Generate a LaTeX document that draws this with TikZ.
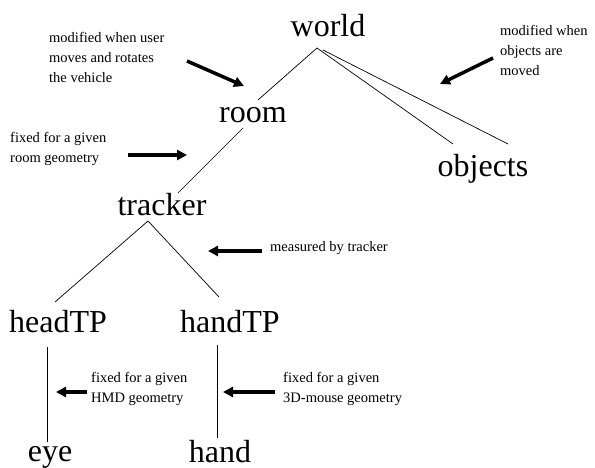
\documentclass[tikz,border=0pt]{standalone}
\usepackage{fontspec}
\setmainfont{Liberation Serif}
\usetikzlibrary{arrows.meta,calc}
\begin{document}
\begin{tikzpicture}[x=1pt,y=-1pt,
  big/.style={font=\fontsize{32}{32}\selectfont, inner sep=0pt, anchor=base},
  note/.style={font=\fontsize{14.5}{20}\selectfont, inner sep=0pt, anchor=north west, align=left},
  link/.style={line width=0.7pt},
  fat/.style={line width=3.5pt, -{Triangle[length=10pt,width=10pt]}}]
\useasboundingbox[fill=white] (0,0) rectangle (595,468);
% main nodes
\node[big] (world) at (328,37) {world};
\node[big] (room) at (253,123) {room};
\node[big] (objects) at (483,177) {objects};
\node[big] (tracker) at (162,215) {tracker};
\node[big] (headTP) at (58,332) {headTP};
\node[big] (handTP) at (230,332) {handTP};
\node[big] (eye) at (50,461) {eye};
\node[big] (hand) at (220,462) {hand};
% connectors
\draw[link] ($(world.base)+(-11,11)$) -- ($(room.base)+(5,-23)$);
\draw[link] ($(world.base)+(-11,11)$) -- ($(objects.base)+(-30,-33)$);
\draw[link] ($(world.base)+(-5,13)$) -- ($(objects.base)+(25,-33)$);
\draw[link] ($(room.base)+(-10,5)$) -- ($(tracker.base)+(16,-22)$);
\draw[link] ($(tracker.base)+(-14,6)$) -- ($(headTP.base)+(-3,-30)$);
\draw[link] ($(tracker.base)+(-14,6)$) -- ($(handTP.base)+(-11,-35)$);
\draw[link] ($(headTP.base)+(-11,15)$) -- ($(eye.base)+(-3,-19)$);
\draw[link] ($(handTP.base)+(-13,13)$) -- ($(hand.base)+(-3,-24)$);
% annotations
\node[note] (n1) at (49,32) {modified when user\\moves and rotates\\the vehicle};
\node[note] (n2) at (10,132) {fixed for a given\\room geometry};
\node[note] (n3) at (500,25) {modified when\\objects are\\moved};
\node[note] (n4) at (270,241) {measured by tracker};
\node[note] (n5) at (91,372) {fixed for a given\\HMD geometry};
\node[note] (n6) at (283,372) {fixed for a given\\3D-mouse geometry};
% arrows (tail and tip)
\coordinate (s1) at (187,61);  \coordinate (t1) at (244,86);
\coordinate (s2) at (128,155); \coordinate (t2) at (187,155);
\coordinate (s3) at (493,58);  \coordinate (t3) at (440,84);
\coordinate (s4) at (262,251); \coordinate (t4) at (208,251);
\coordinate (s5) at (87,392);  \coordinate (t5) at (56,392);
\coordinate (s6) at (275,392); \coordinate (t6) at (223,392);
\draw[fat] (s1) -- (t1);
\draw[fat] (s2) -- (t2);
\draw[fat] (s3) -- (t3);
\draw[fat] (s4) -- (t4);
\draw[fat] (s5) -- (t5);
\draw[fat] (s6) -- (t6);
\end{tikzpicture}
\end{document}
